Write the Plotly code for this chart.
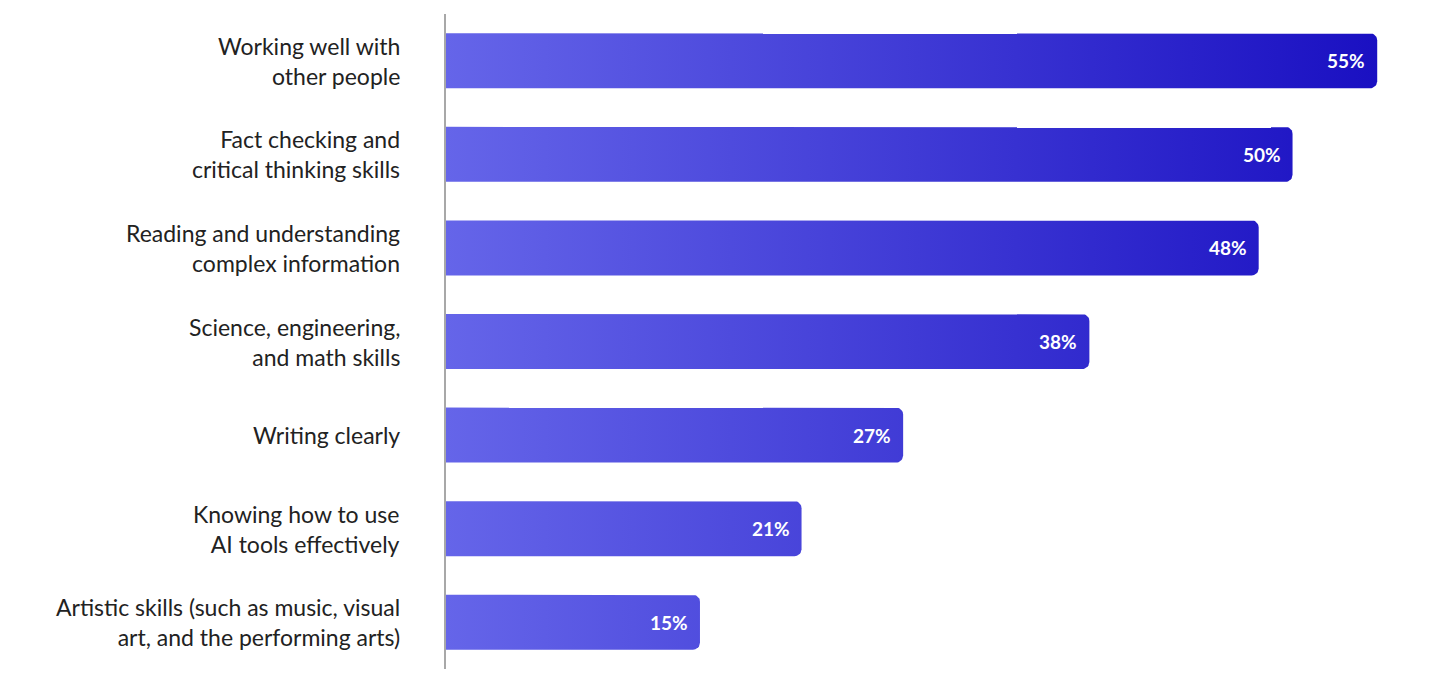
import numpy as np
import plotly.graph_objects as go

# skills, top to bottom
skills = [
    'Working well with<br>other people',
    'Fact checking and<br>critical thinking skills',
    'Reading and understanding<br>complex information',
    'Science, engineering,<br>and math skills',
    'Writing clearly',
    'Knowing how to use<br>AI tools effectively',
    'Artistic skills (such as music, visual<br>art, and the performing arts)',
]
pct = [55, 50, 48, 38, 27, 21, 15]

W, H = 1456, 683
# page body adds an 8px offset, margins compensate for it
ml, mr, mt, mb = 438, 36, 6, 22
x_max = 58
px_x = (W - ml - mr) / x_max          # pixels per x unit
px_y = (H - mt - mb) / len(skills)    # pixels per category
half = 27.5 / px_y                    # half bar height in y units
rad = 7                               # corner radius in px

fig = go.Figure()

for i, v in enumerate(pct):
    rx = rad / px_x
    ry = rad / px_y
    t = np.linspace(0, np.pi / 2, 10)
    # square left end, rounded right corners
    xs = [0.0]
    ys = [i - half]
    for a in t:  # top-right corner (y grows downward since axis reversed)
        xs.append(v - rx + rx * np.sin(a))
        ys.append(i - half + ry - ry * np.cos(a))
    for a in t:  # bottom-right corner
        xs.append(v - rx + rx * np.cos(a))
        ys.append(i + half - ry + ry * np.sin(a))
    xs += [0.0, 0.0]
    ys += [i + half, i - half]
    fig.add_trace(go.Scatter(
        x=xs, y=ys, mode='lines', fill='toself',
        line=dict(width=0),
        fillgradient=dict(type='horizontal',
                          colorscale=[[0, '#6565E9'], [1, '#1A10C2']],
                          start=0, stop=max(pct)),
        hoverinfo='skip', showlegend=False,
    ))
    fig.add_annotation(x=v, y=i, text='<b>%d%%</b>' % v, showarrow=False,
                       xanchor='right', xshift=-10,
                       font=dict(family='Lato', size=19, color='white'))
    fig.add_annotation(xref='paper', x=0, y=i, text=skills[i], showarrow=False,
                       xanchor='right', xshift=-44, align='right',
                       font=dict(family='Lato', size=23, color='#222222'))

fig.update_xaxes(range=[0, x_max], visible=False)
fig.update_yaxes(range=[len(skills) - 0.5, -0.5], showticklabels=False,
                 showgrid=False, zeroline=False, showline=True,
                 linecolor='#a8a8a8', linewidth=1.5)
fig.update_layout(width=W, height=H, plot_bgcolor='white', paper_bgcolor='white',
                  margin=dict(l=ml, r=mr, t=mt, b=mb))

fig.write_html('out.html')
